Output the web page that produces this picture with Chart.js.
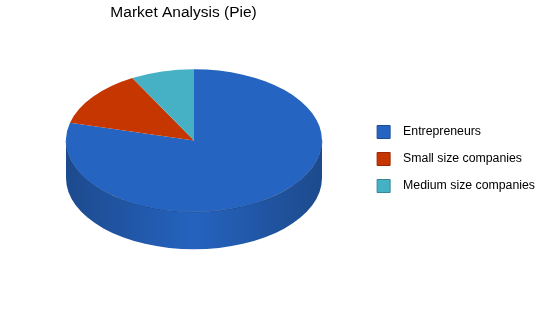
<!DOCTYPE html>
<html>
<head>
<meta charset="utf-8">
<script src="https://cdn.jsdelivr.net/npm/chart.js@4.4.1/dist/chart.umd.min.js"></script>
<style>
  html, body { margin: 0; padding: 0; background: #fff; }
  #wrap { width: 550px; height: 318px; }
</style>
</head>
<body>
<div id="wrap"><canvas id="myChart" width="550" height="318"></canvas></div>
<script>
// donnees du graphique
const categories = ['Entrepreneurs', 'Small size companies', 'Medium size companies'];
const valeurs = [79, 13, 8];
const couleurs = ['#2564c0', '#c63600', '#46b0c4'];
const bordures = ['#1c4d96', '#9a2a00', '#338899'];

// position du camembert 3D (vue inclinee)
const PIE_X = 194;
const PIE_Y = 140.5;
const INCLINAISON = 0.557;
const PROFONDEUR = 37.5;

const pie3d = {
    id: 'pie3d',
    beforeDatasetsDraw(chart) {
        const ctx = chart.ctx;
        const arcs = chart.getDatasetMeta(0).data;
        const cx = arcs[0].x, cy = arcs[0].y, r = arcs[0].outerRadius;
        const ry = r * INCLINAISON;
        ctx.save();
        // les cotes du camembert (seulement la partie de devant)
        arcs.forEach(arc => {
            const a1 = Math.max(arc.startAngle, 0);
            const a2 = Math.min(arc.endAngle, Math.PI);
            if (a2 <= a1) return;
            const base = arc.options.backgroundColor;
            const grad = ctx.createLinearGradient(PIE_X - r, 0, PIE_X + r, 0);
            if (base === couleurs[0]) {
                grad.addColorStop(0, '#1d4a8e');
                grad.addColorStop(0.5, '#2563bf');
                grad.addColorStop(1, '#1d4a8c');
            } else {
                grad.addColorStop(0, base);
                grad.addColorStop(1, base);
            }
            ctx.beginPath();
            ctx.ellipse(PIE_X, PIE_Y, r, ry, 0, a1, a2, false);
            ctx.ellipse(PIE_X, PIE_Y + PROFONDEUR, r, ry, 0, a2, a1, true);
            ctx.closePath();
            ctx.fillStyle = grad;
            ctx.fill();
        });
        // petite ligne sombre au bord du dessus
        ctx.beginPath();
        ctx.ellipse(PIE_X, PIE_Y, r, ry, 0, 0, Math.PI, false);
        ctx.strokeStyle = 'rgba(20,50,100,0.6)';
        ctx.lineWidth = 1;
        ctx.stroke();
        // le dessus: cercle ecrase verticalement
        ctx.translate(PIE_X, PIE_Y);
        ctx.scale(1, INCLINAISON);
        ctx.translate(-cx, -cy);
    },
    afterDatasetsDraw(chart) {
        chart.ctx.restore();
    }
};

let ctx = document.getElementById('myChart').getContext('2d');
let myChart = new Chart(ctx, {
    type: 'pie',
    data: {
        labels: categories,
        datasets: [{
            data: valeurs,
            backgroundColor: couleurs,
            borderWidth: 0,
            clip: false
        }]
    },
    options: {
        responsive: false,
        animation: false,
        radius: 128,
        layout: {
            padding: { left: 4, right: 5, top: 0, bottom: 0 }
        },
        plugins: {
            title: {
                display: true,
                text: 'Market Analysis (Pie)',
                fullSize: false,
                color: '#000',
                font: { family: 'Liberation Sans', size: 15.5, weight: 'normal' },
                padding: { top: 3, bottom: 4 }
            },
            legend: {
                position: 'right',
                labels: {
                    boxWidth: 13,
                    boxHeight: 13,
                    padding: 14,
                    color: '#000',
                    font: { family: 'Liberation Sans', size: 12.3 },
                    generateLabels(chart) {
                        return categories.map((c, i) => ({
                            text: '  ' + c,
                            fillStyle: couleurs[i],
                            strokeStyle: bordures[i],
                            lineWidth: 1,
                            fontColor: '#000',
                            index: i
                        }));
                    }
                }
            },
            tooltip: { enabled: false }
        }
    },
    plugins: [pie3d]
});
</script>
</body>
</html>
